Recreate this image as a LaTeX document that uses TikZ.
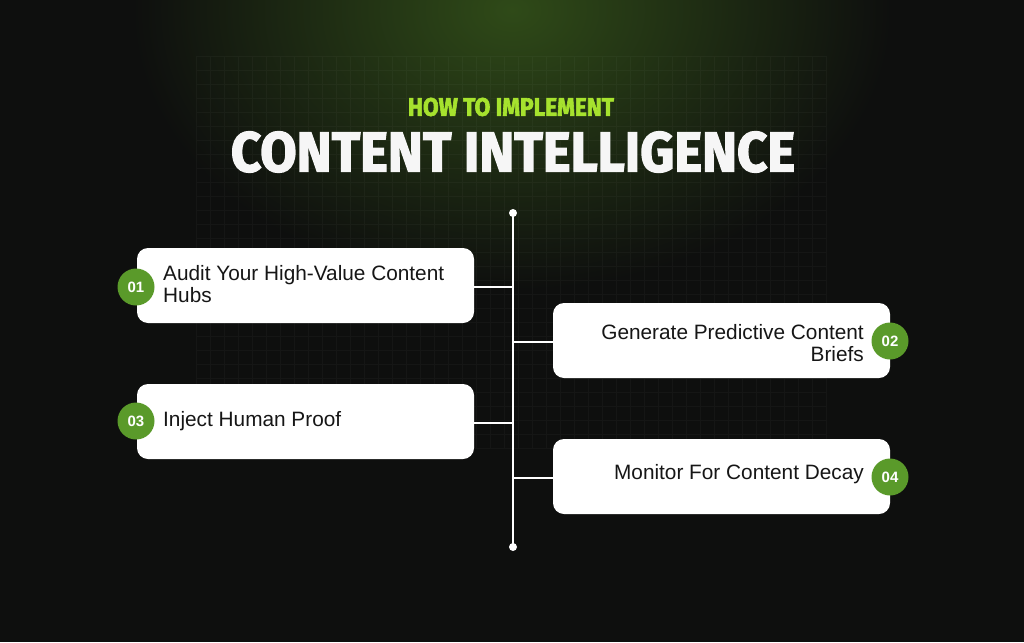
\documentclass[tikz,border=0pt]{standalone}
\usepackage{fontspec}
\setmainfont{Liberation Sans}
\newfontfamily\titlefont{Fira Sans}[BoldFeatures={FakeBold=2.5}]
\usetikzlibrary{calc}
\definecolor{bg}{HTML}{0E0F0E}
\definecolor{glow}{HTML}{2F4A18}
\definecolor{lime}{HTML}{A6E22E}
\definecolor{badge}{HTML}{5A9A2A}
\definecolor{ink}{HTML}{161616}
\tikzset{
  card/.style={draw=none, fill=white, rounded corners=11pt, minimum width=337pt, minimum height=75pt},
  badgec/.style={circle, fill=badge, minimum size=37pt, inner sep=0pt, text=white, font=\bfseries\fontsize{15}{15}\selectfont},
  ltext/.style={anchor=west, align=left, text=ink, font=\fontsize{20.8}{22.5}\selectfont, inner sep=0pt},
  rtext/.style={anchor=east, align=right, text=ink, font=\fontsize{20.8}{22.5}\selectfont, inner sep=0pt},
  conn/.style={draw=white, line width=1.3pt},
  spine/.style={draw=white, line width=2pt},
  dot/.style={circle, fill=white, minimum size=8pt, inner sep=0pt}
}
\begin{document}
\begin{tikzpicture}[x=1pt,y=-1pt]
\useasboundingbox (0,0) rectangle (1024,642);
\fill[bg] (0,0) rectangle (1024,642);
\begin{scope}
\clip (0,0) rectangle (1024,642);
\shade[inner color=glow, outer color=bg] (512,10) ellipse (380 and 280);
\draw[white, opacity=0.03, line width=0.5pt, step=14pt] (196,56) grid (826,448);
\end{scope}

% titles
\node[text=lime, inner sep=0pt] (t1) at (511,107) {\resizebox{206pt}{18pt}{\titlefont\bfseries HOW TO IMPLEMENT}};
\node[text=white!93!gray, inner sep=0pt] (t2) at (513,152) {\resizebox{564pt}{40pt}{\titlefont\bfseries CONTENT INTELLIGENCE}};

% spine
\node[dot] (top) at (513,213) {};
\node[dot] (bot) at (513,547) {};
\draw[spine] (top.center) -- (bot.center);

% cards
\node[card] (c1) at (305.5,285.5) {};
\node[card] (c2) at (721.5,340.5) {};
\node[card] (c3) at (305.5,421.5) {};
\node[card] (c4) at (721.5,476.5) {};

\coordinate (j1) at (513,287);
\coordinate (j2) at (513,342);
\coordinate (j3) at (513,423);
\coordinate (j4) at (513,478);
\draw[conn] (c1.east |- j1) -- (j1);
\draw[conn] (c2.west |- j2) -- (j2);
\draw[conn] (c3.east |- j3) -- (j3);
\draw[conn] (c4.west |- j4) -- (j4);

\node[ltext] (l1) at (163,284) {Audit Your High-Value Content\\Hubs};
\node[rtext] (l2) at (864,343) {Generate Predictive Content\\Briefs};
\node[ltext] (l3) at (163,421) {Inject Human Proof};
\node[rtext] (l4) at (864,474) {Monitor For Content Decay};

\node[badgec] (b1) at (136,287) {01};
\node[badgec] (b2) at (890,341) {02};
\node[badgec] (b3) at (136,421) {03};
\node[badgec] (b4) at (890,477) {04};
\end{tikzpicture}
\end{document}
